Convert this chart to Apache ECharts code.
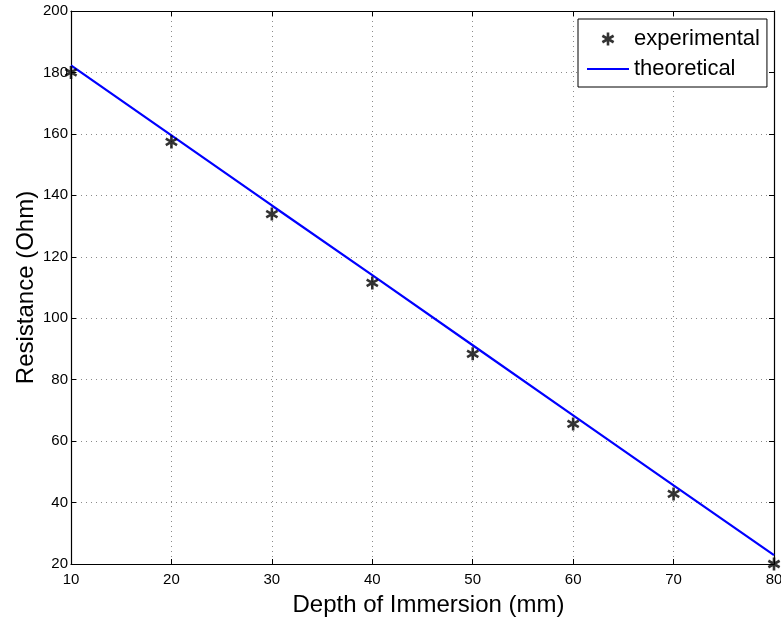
<!DOCTYPE html>
<html>
<head>
<meta charset="utf-8">
<script src="https://cdn.jsdelivr.net/npm/echarts@6/dist/echarts.min.js"></script>
<style>
  html, body { margin: 0; padding: 0; background: #fff; }
  #chart { width: 781px; height: 620px; }
</style>
</head>
<body>
<div id="chart"></div>
<script>
// Depth of immersion (mm)
const depths = [10, 20, 30, 40, 50, 60, 70, 80];
// Measured resistance (Ohm)
const experimental = [180, 157.4, 133.9, 111.5, 88.4, 65.6, 42.8, 20];
// Model line (Ohm)
const theoretical = [182.3, 159.5, 136.7, 114.0, 91.2, 68.4, 45.6, 22.9];

const xTicks = { min: 10, max: 80, interval: 10 };
const yTicks = { min: 20, max: 200, interval: 20 };

const FONT = '"Liberation Sans", Arial, Helvetica, sans-serif';
const ASTERISK = 'path://M0,-10L0,10M-8.66,-5L8.66,5M-8.66,5L8.66,-5';
const DASH = 'path://M0,0H42V2.2H0Z';

const gridLine = { show: true, lineStyle: { color: '#8a8a8a', type: [1, 4], width: 1 } };
const axisLine = { show: true, onZero: false, lineStyle: { color: '#000', width: 1.2 } };
const tickIn = { show: true, inside: true, length: 5, lineStyle: { color: '#000', width: 1 } };

const chart = echarts.init(document.getElementById('chart'), null, { renderer: 'canvas' });

chart.setOption({
  animation: false,
  backgroundColor: '#fff',
  grid: { left: 71, top: 11, right: 7, bottom: 56, containLabel: false, outerBoundsMode: 'none' },
  xAxis: [
    {
      type: 'value', position: 'bottom', ...xTicks,
      name: 'Depth of Immersion (mm)', nameLocation: 'middle', nameGap: 29,
      nameMoveOverlap: false,
      nameTextStyle: { fontFamily: FONT, fontSize: 24, color: '#000', padding: [0, 0, 0, 12] },
      axisLine, axisTick: tickIn, splitLine: gridLine,
      axisLabel: { fontFamily: FONT, fontSize: 15, color: '#000', margin: 8 }
    },
    {
      type: 'value', position: 'top', ...xTicks,
      axisLine, axisTick: tickIn, splitLine: { show: false },
      axisLabel: { show: false }
    }
  ],
  yAxis: [
    {
      type: 'value', position: 'left', ...yTicks,
      name: 'Resistance (Ohm)', nameLocation: 'middle', nameGap: 33, nameRotate: 90,
      nameMoveOverlap: false,
      nameTextStyle: { fontFamily: FONT, fontSize: 24, color: '#000' },
      axisLine, axisTick: tickIn, splitLine: gridLine,
      axisLabel: { fontFamily: FONT, fontSize: 15, color: '#000', margin: 3 }
    },
    {
      type: 'value', position: 'right', ...yTicks,
      axisLine, axisTick: tickIn, splitLine: { show: false },
      axisLabel: { show: false }
    }
  ],
  legend: {
    left: 578, top: 19,
    orient: 'vertical',
    align: 'left',
    backgroundColor: '#fff',
    borderColor: '#000', borderWidth: 1,
    padding: [7, 7, 5, 9],
    itemWidth: 42, itemHeight: 13, itemGap: 4,
    textStyle: { fontFamily: FONT, fontSize: 22, color: '#000', lineHeight: 26 },
    data: [
      { name: 'experimental', icon: ASTERISK, itemStyle: { color: 'rgba(0,0,0,0)', borderColor: '#000', borderWidth: 2.6 } },
      { name: 'theoretical', icon: DASH, itemStyle: { color: '#0000ff', borderWidth: 0 } }
    ]
  },
  series: [
    {
      name: 'theoretical', type: 'line',
      data: depths.map((d, i) => [d, theoretical[i]]),
      showSymbol: false, symbol: 'none',
      lineStyle: { color: '#0000ff', width: 2.2 },
      itemStyle: { color: '#0000ff' },
      clip: false, z: 2
    },
    {
      name: 'experimental', type: 'scatter',
      data: depths.map((d, i) => [d, experimental[i]]),
      symbol: ASTERISK, symbolSize: 13, symbolKeepAspect: true,
      itemStyle: { color: 'rgba(0,0,0,0)', borderColor: '#000', borderWidth: 2.6 },
      clip: false, z: 3
    }
  ]
});
</script>
</body>
</html>
